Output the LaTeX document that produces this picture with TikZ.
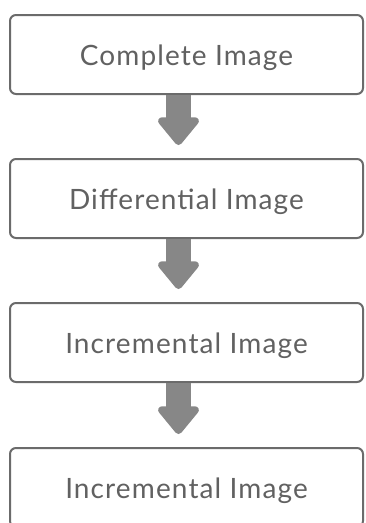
\documentclass[tikz,border=0pt]{standalone}
\usepackage{fontspec}
\setmainfont{Lato}[LetterSpace=4]
\usepackage{tikz}
\usetikzlibrary{calc,arrows.meta}
\colorlet{box_line}{black!58}
\colorlet{box_text}{black!62}
\colorlet{step_arrow}{black!47}
\tikzset{
    imagebox/.style={draw=box_line,line width=2pt,rounded corners=6pt,fill=white,
        minimum width=353pt,minimum height=79pt,text=box_text,
        text height=24pt,text depth=2pt,
        font=\fontsize{28}{32}\selectfont},
    flow/.style={-{Triangle[length=30pt,width=47pt,round]},line width=25pt,step_arrow},
}
\begin{document}
\begin{tikzpicture}[x=1pt,y=-1pt]
  \useasboundingbox (0,0) rectangle (366,523);
  % Image chain boxes
  \node[imagebox] (complete) at (186.5,54.5) {Complete Image};
  \node[imagebox] (diff) at (186.5,198.5) {Differential Image};
  \node[imagebox] (incr1) at (186.5,342.5) {Incremental Image};
  \node[imagebox] (incr2) at (186.5,487.5) {Incremental Image};
  % Down arrows between the boxes
  \draw[flow] ([xshift=-8pt]complete.south) -- ([xshift=-8pt,yshift=13pt]diff.north);
  \draw[flow] ([xshift=-8pt]diff.south) -- ([xshift=-8pt,yshift=13pt]incr1.north);
  \draw[flow] ([xshift=-8pt]incr1.south) -- ([xshift=-8pt,yshift=13pt]incr2.north);
\end{tikzpicture}
\end{document}
